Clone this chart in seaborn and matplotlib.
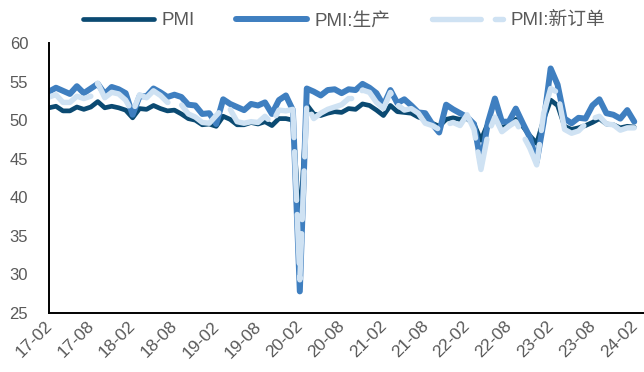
import numpy as np
import pandas as pd
import matplotlib
matplotlib.use("Agg")
import matplotlib.pyplot as plt
import matplotlib.transforms as mtransforms
import seaborn as sns

# Monthly series, 2017-02 .. 2024-02
months = pd.period_range("2017-02", "2024-02", freq="M")

pmi = [
    51.6, 51.8, 51.2, 51.2, 51.7, 51.4, 51.7, 52.4, 51.6, 51.8, 51.6,
    51.3, 50.3, 51.5, 51.4, 51.9, 51.5, 51.2, 51.3, 50.8, 50.2, 50.0, 49.4,
    49.5, 49.2, 50.5, 50.1, 49.4, 49.4, 49.7, 49.5, 49.8, 49.3, 50.2, 50.2,
    50.0, 35.7, 52.0, 50.8, 50.6, 50.9, 51.1, 51.0, 51.5, 51.4, 52.1, 51.9,
    51.3, 50.6, 51.9, 51.1, 51.0, 50.9, 50.4, 50.1, 49.6, 49.2, 50.1, 50.3,
    50.1, 50.2, 49.5, 47.4, 49.6, 50.2, 49.0, 49.4, 50.1, 49.2, 48.0, 47.0,
    50.1, 52.6, 51.9, 49.2, 48.8, 49.0, 49.3, 49.7, 50.2, 49.5, 49.4, 49.0,
    49.2, 49.1,
]

production = [
    53.7, 54.2, 53.8, 53.4, 54.4, 53.5, 54.1, 54.7, 53.4, 54.3, 54.0,
    53.5, 50.7, 53.1, 53.1, 54.1, 53.6, 53.0, 53.3, 53.0, 52.0, 51.9, 50.8,
    50.9, 49.5, 52.7, 52.1, 51.7, 51.3, 52.1, 51.9, 52.3, 50.8, 52.6, 53.2,
    51.3, 27.8, 54.1, 53.7, 53.2, 53.9, 54.0, 53.5, 54.0, 53.9, 54.7, 54.2,
    53.5, 51.9, 53.9, 52.2, 52.7, 51.9, 51.0, 50.9, 49.5, 48.4, 52.0, 51.4,
    50.9, 50.4, 49.5, 44.4, 49.7, 52.8, 49.8, 49.8, 51.5, 49.6, 47.8, 44.6,
    49.8, 56.7, 54.6, 50.2, 49.6, 50.3, 50.2, 51.9, 52.7, 50.9, 50.7, 50.2,
    51.3, 49.8,
]

new_orders = [
    53.0, 53.3, 52.3, 52.3, 53.1, 52.8, 53.1, 54.8, 52.9, 53.6, 53.4,
    52.6, 51.0, 53.3, 52.9, 53.8, 53.2, 52.3, 52.2, 52.0, 50.8, 50.4, 49.7,
    49.6, 50.6, 51.6, 51.4, 49.8, 49.6, 49.8, 49.7, 50.5, 49.6, 51.3, 51.2,
    51.4, 29.3, 52.0, 50.2, 50.9, 51.4, 51.7, 52.0, 52.8, 52.8, 53.9, 53.6,
    52.3, 51.5, 53.6, 52.0, 51.3, 51.5, 50.9, 49.6, 49.3, 48.8, 49.4, 49.7,
    49.3, 50.7, 48.8, 43.6, 48.2, 50.4, 48.5, 49.2, 49.8, 48.1, 46.4, 44.2,
    50.9, 54.1, 53.6, 48.8, 48.3, 48.6, 49.5, 50.2, 50.5, 49.5, 49.4, 48.7,
    49.0, 49.0,
]

series_names = ["PMI", "PMI:生产", "PMI:新订单"]
colors = ["#0B4A72", "#3F7FC0", "#CFE2F3"]
widths = [3.4, 4.3, 3.9]
styles = ["-", "-", (0, (9, 2.6))]

y_ticks = [25, 30, 35, 40, 45, 50, 55, 60]
tick_labels = [m.strftime("%y-%m") for m in months[::6]]

df = pd.DataFrame({
    "idx": np.arange(len(months)),
    series_names[0]: pmi,
    series_names[1]: production,
    series_names[2]: new_orders,
})

sns.set_theme(style="white")
plt.rcParams["font.family"] = ["Liberation Sans", "Noto Sans CJK SC", "DejaVu Sans"]

fig = plt.figure(figsize=(6.44, 3.72), dpi=100)
ax = fig.add_axes([49 / 644, 59 / 372, 1 - 49 / 644, 270 / 372])

for name, c, lw, ls in zip(series_names, colors, widths, styles):
    sns.lineplot(data=df, x="idx", y=name, ax=ax, color=c, linewidth=lw,
                 linestyle=ls, label=name, solid_capstyle="round",
                 dash_capstyle="round", solid_joinstyle="round")

ax.set_xlim(0, 85.4)
ax.set_ylim(25, 60)
ax.set_yticks(y_ticks)
ax.set_xticks(np.arange(0, len(months), 6))
ax.set_xticklabels(tick_labels, rotation=45, ha="right")
ax.set_xlabel("")
ax.set_ylabel("")

for side in ["top", "right"]:
    ax.spines[side].set_visible(False)
for side in ["left", "bottom"]:
    ax.spines[side].set_color("black")
    ax.spines[side].set_linewidth(1.4)

ax.tick_params(axis="both", direction="in", length=4, width=1.2, color="black",
               labelcolor="#595959")
ax.tick_params(axis="y", pad=15, labelsize=12)
ax.tick_params(axis="x", pad=4, labelsize=12.5)

# nudge the slanted date labels so their upper-right corner sits at the tick
shift = mtransforms.ScaledTranslation(6 / 100, 0, fig.dpi_scale_trans)
for lbl in ax.get_xticklabels():
    lbl.set_transform(lbl.get_transform() + shift)

ax.legend_.remove()
handles, labels = ax.get_legend_handles_labels()
fig.legend(handles, labels, ncol=3, frameon=False, loc="center",
           bbox_to_anchor=(0.534, 0.944), fontsize=13.5, handlelength=3.8,
           handletextpad=0.4, columnspacing=2.2, labelcolor="#595959")

fig.savefig("out.png", dpi=100)
